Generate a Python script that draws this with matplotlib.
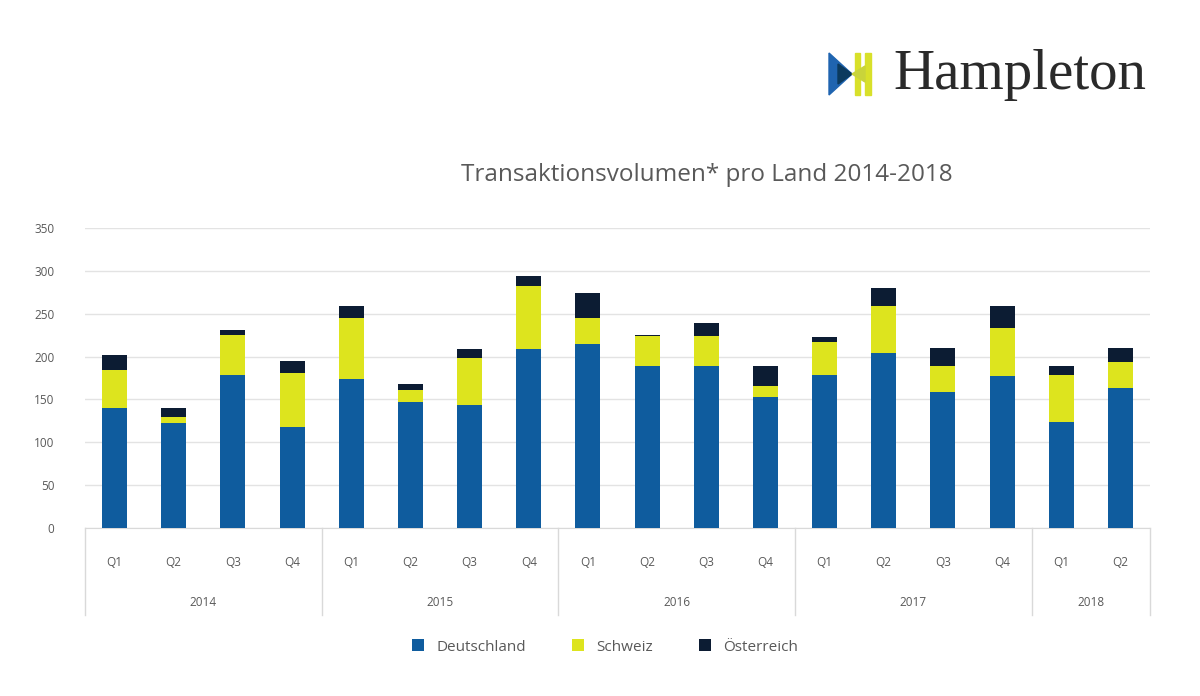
import numpy as np
import matplotlib
matplotlib.use('Agg')
from matplotlib import pyplot as plt
from matplotlib.patches import Polygon, Rectangle
import matplotlib.transforms as mtransforms

plt.rcParams['font.family'] = ['Open Sans', 'DejaVu Sans']

quarters = ['Q1', 'Q2', 'Q3', 'Q4'] * 4 + ['Q1', 'Q2']
years = ['2014', '2015', '2016', '2017', '2018']
year_sizes = [4, 4, 4, 4, 2]
deutschland = [140, 122, 178, 118, 174, 147, 143, 209, 215, 189, 189, 153, 178, 204, 159, 177, 124, 163]
schweiz = [44, 8, 47, 63, 71, 14, 55, 73, 30, 35, 35, 13, 39, 55, 30, 56, 55, 31]
oesterreich = [18, 10, 6, 14, 14, 7, 11, 12, 29, 1, 15, 23, 6, 21, 21, 26, 10, 16]
series_names = ['Deutschland', 'Schweiz', 'Österreich']
colors = ['#0f5c9e', '#dde41e', '#0c1c33']

fig = plt.figure(figsize=(12, 6.96), dpi=100)
ax = fig.add_axes([85 / 1200, 1 - 528 / 696, 1065 / 1200, 300 / 696])

x = np.arange(len(quarters))
d = np.array(deutschland)
s = np.array(schweiz)
o = np.array(oesterreich)
w = 0.42
ax.bar(x, d, w, color=colors[0], label=series_names[0], zorder=3)
ax.bar(x, s, w, bottom=d, color=colors[1], label=series_names[1], zorder=3)
ax.bar(x, o, w, bottom=d + s, color=colors[2], label=series_names[2], zorder=3)

ax.set_xlim(-0.5, len(quarters) - 0.5)
ax.set_ylim(0, 350)
ax.set_yticks(range(0, 351, 50))
ax.grid(axis='y', color='#e3e3e3', linewidth=1, zorder=0)
for sp in ['top', 'right', 'left']:
    ax.spines[sp].set_visible(False)
ax.spines['bottom'].set_color('#d9d9d9')
ax.set_xticks(x)
ax.set_xticklabels(quarters)
ax.tick_params(axis='both', length=0, labelsize=8.5, labelcolor='#595959')
ax.tick_params(axis='x', pad=20)
ax.tick_params(axis='y', pad=22)

# year group labels and separators
trans = mtransforms.blended_transform_factory(ax.transData, ax.transAxes)
start = -0.5
ax.plot([start, start], [0, -0.29], transform=trans, color='#d9d9d9', lw=1, clip_on=False)
for yr, n in zip(years, year_sizes):
    end = start + n
    ax.plot([end, end], [0, -0.29], transform=trans, color='#d9d9d9', lw=1, clip_on=False)
    ax.text((start + end) / 2, -0.247, yr, transform=trans, ha='center', va='center',
            fontsize=8.5, color='#595959')
    start = end

fig.text(707 / 1200, 1 - 175 / 696, 'Transaktionsvolumen* pro Land 2014-2018', ha='center',
         va='center', fontsize=17.5, color='#595959')

leg = fig.legend(loc='center', bbox_to_anchor=(605 / 1200, 1 - 647 / 696), ncol=3, frameon=False,
                 fontsize=11, handlelength=0.8, handleheight=0.8, columnspacing=3.0)
for t in leg.get_texts():
    t.set_color('#595959')

# logo
fig.patches.append(Polygon([[829 / 1200, 1 - 53 / 696], [829 / 1200, 1 - 95 / 696], [852 / 1200, 1 - 74 / 696]],
                           closed=True, color='#1f64b0', transform=fig.transFigure))
fig.patches.append(Polygon([[838 / 1200, 1 - 64 / 696], [838 / 1200, 1 - 84 / 696], [852 / 1200, 1 - 74 / 696]],
                           closed=True, color='#0b3a5e', transform=fig.transFigure))
fig.patches.append(Rectangle((855 / 1200, 1 - 95 / 696), 5 / 1200, 42 / 696,
                             color='#d8e02a', transform=fig.transFigure))
fig.patches.append(Rectangle((865 / 1200, 1 - 95 / 696), 6 / 1200, 42 / 696,
                             color='#d8e02a', transform=fig.transFigure))
fig.patches.append(Polygon([[852 / 1200, 1 - 74 / 696], [865 / 1200, 1 - 66 / 696], [865 / 1200, 1 - 82 / 696]],
                           closed=True, color='#c9d43a', transform=fig.transFigure))
fig.text(893 / 1200, 1 - 75 / 696, 'Hampleton', ha='left', va='center', fontsize=41,
         family='Liberation Serif', color='#2a2a2a')

fig.savefig('out.png', dpi=100)
